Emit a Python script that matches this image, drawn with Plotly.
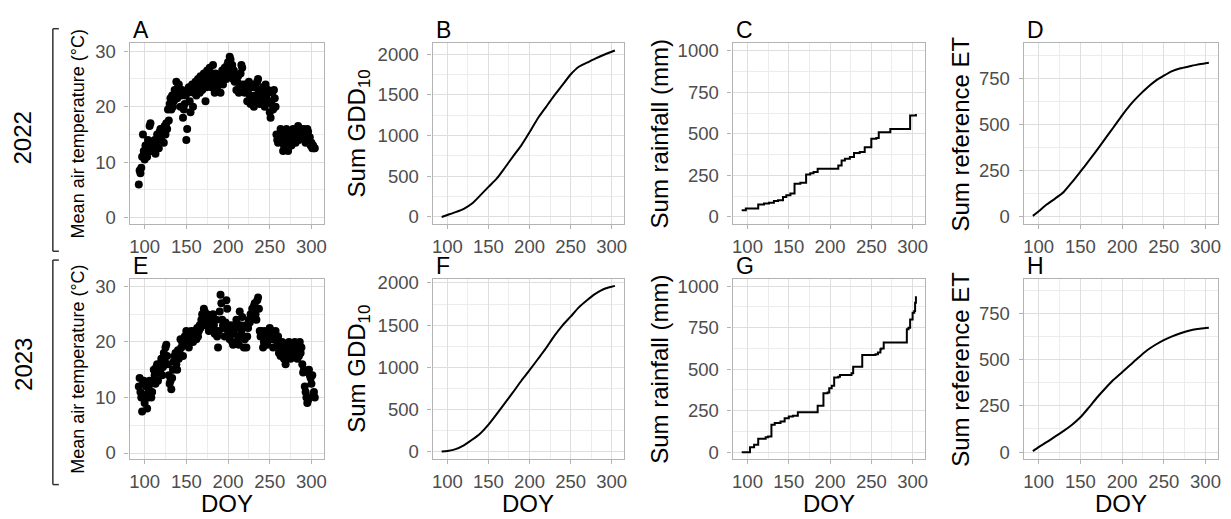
import plotly.graph_objects as go

# --- data ---
doy = list(range(93, 305))

temp_2022 = [6, 8.5, 8, 9, 11, 15, 12,
             10.5, 13, 12, 11, 14, 13, 16.5, 17, 12, 13.5,
             13, 12, 14, 11.5, 13, 15, 14, 12.5, 15.5, 16,
             14.5, 16, 15, 13.5, 16.5, 15, 17, 16, 19.5, 17.5,
             20.5, 21.5, 19.5, 22, 20, 21, 23, 22, 24.5, 21.5,
             23.5, 24, 22.5, 20, 22, 23, 18, 19.5, 20.5, 22,
             14, 16, 22.5, 23.5, 21, 19, 23, 24, 20, 22.5,
             23, 24.5, 22, 23.5, 25, 24, 22.5, 25.5, 24, 23,
             25, 26, 24, 21, 23.5, 26.5, 25, 24, 27, 26,
             23.5, 25, 27.5, 24, 22.5, 26, 25, 23, 24.5, 25.5,
             24, 22.5, 25, 26.5, 24, 25.5, 27, 26, 25, 27.5,
             28, 27, 29, 28.5, 26, 27.5, 25, 26.5, 24.5, 25.5,
             23, 24.5, 25.5, 22.5, 24, 26, 27.5, 27, 24, 23,
             22.5, 24, 23.5, 21, 23, 24.5, 22, 20.5, 23.5, 24,
             21.5, 20, 22, 23.5, 21, 24.5, 25, 22.5, 20.5, 23,
             22, 21, 23.5, 22.5, 20, 24, 21.5, 22.5, 23, 21,
             19, 18, 20.5, 22.5, 19.5, 23, 21.5, 20, 15, 14,
             13.5, 14.5, 15, 16, 14, 15.5, 12, 13, 14.5, 15,
             16, 13.5, 12, 14, 15, 14.5, 13, 15.5, 16, 14,
             15, 13.5, 14.5, 15, 16.5, 14, 15.5, 16, 15, 14.5,
             15.5, 16, 14, 13.5, 15, 16, 15.5, 14, 14.5, 13,
             13.5, 12.5, 13, 12.5, 12.5]

temp_2023 = [12, 13.5, 11, 10, 7.5, 12.5, 13,
             9, 10.5, 12, 8, 10, 11.5, 13, 12.5, 10, 11,
             13, 15, 14, 12.5, 15.5, 16, 13, 14.5, 16, 15,
             17, 14, 15.5, 18, 16.5, 19, 19.5, 17.5, 16, 14,
             12.5, 13, 11.5, 13.5, 15, 16.5, 17.5, 18, 16, 15,
             18.5, 17, 18, 20.5, 19, 20, 17.5, 19.5, 21, 20,
             22, 20.5, 21, 19, 20, 21.5, 22, 21, 20, 21.5,
             22, 21, 20.5, 22.5, 21, 22, 23, 22.5, 24, 25,
             24, 26, 25.5, 23, 24.5, 25, 23.5, 22, 24, 23,
             22.5, 24, 25, 23, 21.5, 22, 24, 21, 19, 22,
             25.5, 28.5, 27, 24, 23, 22.5, 21, 23.5, 27.5, 26,
             22, 21, 20.5, 23, 22, 20, 19.5, 21.5, 23, 22.5,
             24, 20, 21, 19.5, 25.5, 23, 22, 24.5, 21, 19,
             20.5, 23, 19, 21, 22.5, 24, 23.5, 25, 24, 26,
             25, 26.5, 27, 25, 24, 27.5, 28, 26, 22, 21,
             22, 21.5, 19, 20, 22, 21, 20.5, 19.5, 21.5, 22,
             22.5, 21, 22, 20.5, 19, 21, 21.5, 22, 20.5, 19.5,
             21, 18, 19, 17.5, 18.5, 20, 19, 17, 18, 16,
             17.5, 18.5, 19, 20, 18, 17, 19.5, 18, 17.5, 19,
             20, 18.5, 18, 17, 19, 17.5, 20, 18, 19, 16,
             14.5, 15, 12, 11, 10, 9, 9.5, 15, 14, 13.5,
             12.5, 14, 10.5, 11, 10]

doy_cum = [93, 100, 110, 120, 130, 140, 150, 160, 170, 180, 190, 200,
           210, 220, 230, 240, 250, 260, 270, 280, 290, 300, 304]
gdd_2022 = [0, 25, 60, 100, 165, 265, 370, 470, 605, 745, 880, 1040,
            1210, 1350, 1490, 1620, 1750, 1845, 1895, 1945, 1990, 2030, 2045]
gdd_2023 = [0, 8, 30, 75, 140, 215, 320, 445, 575, 705, 840, 965,
            1095, 1225, 1370, 1495, 1600, 1710, 1795, 1870, 1925, 1955, 1965]
et_2022 = [5, 30, 68, 100, 135, 188, 245, 303, 363, 425, 487, 550,
           608, 657, 700, 737, 765, 790, 805, 815, 825, 832, 835]
et_2023 = [5, 27, 55, 85, 115, 148, 188, 240, 295, 345, 392, 432,
           472, 512, 550, 580, 605, 625, 642, 656, 665, 670, 672]

rain_doy_2022 = [93, 98, 113, 120, 126, 132, 137, 143, 147, 152, 157, 164, 171, 176,
                 180, 185, 207, 210, 214, 218, 224, 229, 236, 242, 250, 256, 259, 273,
                 295, 297, 304]
rain_2022 = [40, 50, 75, 80, 85, 95, 100, 120, 130, 140, 200, 205, 255, 262,
             270, 290, 290, 310, 340, 350, 360, 385, 390, 420, 470, 475, 510, 530,
             530, 610, 620]
rain_doy_2023 = [93, 103, 108, 113, 122, 125, 129, 133, 140, 145, 150, 155, 161, 185,
                 192, 197, 199, 202, 205, 210, 212, 226, 228, 239, 255, 258, 261, 262,
                 265, 293, 295, 297, 300, 302, 303, 304]
rain_2023 = [0, 30, 45, 80, 90, 95, 165, 175, 185, 205, 215, 220, 240, 280,
             355, 360, 385, 400, 450, 455, 465, 475, 515, 585, 590, 600, 620, 625,
             660, 740, 750, 800, 840, 850, 900, 940]

letters = ["A", "B", "C", "D", "E", "F", "G", "H"]
years = ["2022", "2023"]

# --- layout in pixels (page coords; page body has an 8px margin) ---
OFF = 8
W, H = 1231 - OFF, 519 - OFF
cols_px = [(129, 324), (433, 625), (734, 927), (1026, 1221)]
rows_px = [(38, 222), (278, 462)]
FONT = "Liberation Sans, Arial, sans-serif"


def px(v):
    return (v - OFF) / W


def py(v):
    return 1 - (v - OFF) / H


# (y ranges per row, major dtick, minor dtick, y title, title x centre, title size)
col_y = [
    ([[-1.1, 31.4], [-1.1, 31.4]], 10, 5, "Mean air temperature (°C)", 77, 18),
    ([[-84, 2132], [-89, 2050]], 500, 250, "Sum GDD<sub>10</sub>", 359, 24),
    ([[-42, 1045], [-42, 1045]], 250, 125, "Sum rainfall (mm)", 661, 24),
    ([[-38, 940], [-38, 937]], 250, 125, "Sum reference ET", 963, 24),
]

series = [
    [("scatter", doy, temp_2022), ("line", doy_cum, gdd_2022),
     ("step", rain_doy_2022, rain_2022), ("line", doy_cum, et_2022)],
    [("scatter", doy, temp_2023), ("line", doy_cum, gdd_2023),
     ("step", rain_doy_2023, rain_2023), ("line", doy_cum, et_2023)],
]

fig = go.Figure()
annotations = []
grid_major = "#dedede"
grid_minor = "#ececec"
border = "#b3b3b3"

for r in range(2):
    for c in range(4):
        n = r * 4 + c + 1
        xs = "x" if n == 1 else f"x{n}"
        ys = "y" if n == 1 else f"y{n}"
        kind, xv, yv = series[r][c]
        if kind == "scatter":
            fig.add_trace(go.Scatter(x=xv, y=yv, mode="markers", xaxis=xs, yaxis=ys,
                                     marker=dict(color="black", size=8), showlegend=False))
        else:
            fig.add_trace(go.Scatter(x=xv, y=yv, mode="lines", xaxis=xs, yaxis=ys,
                                     line=dict(color="black", width=2,
                                               shape="hv" if kind == "step" else "spline",
                                               smoothing=0.6),
                                     showlegend=False))
        l, rr = cols_px[c]
        t, b = rows_px[r]
        yr, dt, mdt, ytitle, tx, tsize = col_y[c]
        common = dict(showline=True, linecolor=border, linewidth=1.3, mirror=True,
                      ticks="outside", ticklen=4, tickcolor=border, tickwidth=1,
                      showgrid=True, gridcolor=grid_major, gridwidth=1, zeroline=False,
                      tickfont=dict(family=FONT, size=18.5, color="#4d4d4d"))
        fig.layout["xaxis" if n == 1 else f"xaxis{n}"] = dict(
            domain=[px(l), px(rr)], anchor=ys, range=[82, 315], tick0=100, dtick=50,
            ticklabelstandoff=2,
            minor=dict(tick0=75, dtick=25, showgrid=True, gridcolor=grid_minor, gridwidth=0.6),
            **common)
        fig.layout["yaxis" if n == 1 else f"yaxis{n}"] = dict(
            domain=[py(b), py(t)], anchor=xs, range=yr[r], tick0=0, dtick=dt,
            ticklabelstandoff=5,
            minor=dict(tick0=0, dtick=mdt, showgrid=True, gridcolor=grid_minor, gridwidth=0.6),
            **common)
        # panel letter
        annotations.append(dict(text=letters[n - 1], x=px(l + 1), y=py(t + 2),
                                xref="paper", yref="paper", xanchor="left", yanchor="bottom",
                                showarrow=False, font=dict(family=FONT, size=23, color="black")))
        # y axis title
        annotations.append(dict(text=ytitle, x=px(tx), y=py((t + b) / 2),
                                xref="paper", yref="paper", textangle=-90,
                                xanchor="center", yanchor="middle", showarrow=False,
                                font=dict(family=FONT, size=tsize, color="black")))
        if r == 1:
            annotations.append(dict(text="DOY", x=px((l + rr) / 2), y=py(507),
                                    xref="paper", yref="paper", xanchor="center",
                                    yanchor="middle", showarrow=False,
                                    font=dict(family=FONT, size=24, color="black")))

# year labels and brackets
year_y = [134, 365]
brackets = [(23, 250), (259, 488)]
shapes = []
for i, yl in enumerate(years):
    annotations.append(dict(text=yl, x=px(22), y=py(year_y[i]), xref="paper", yref="paper",
                            textangle=-90, xanchor="center", yanchor="middle", showarrow=False,
                            font=dict(family=FONT, size=24, color="black")))
    y0, y1 = brackets[i]
    line = dict(color="#333333", width=1.5)
    shapes.append(dict(type="line", xref="paper", yref="paper", x0=px(52), x1=px(52),
                       y0=py(y0), y1=py(y1), line=line))
    for yy in (y0, y1):
        shapes.append(dict(type="line", xref="paper", yref="paper", x0=px(52), x1=px(58),
                           y0=py(yy), y1=py(yy), line=line))

fig.update_layout(width=W, height=H, margin=dict(l=0, r=0, t=0, b=0),
                  paper_bgcolor="white", plot_bgcolor="white",
                  annotations=annotations, shapes=shapes, showlegend=False,
                  font=dict(family=FONT))

fig.write_html("out.html")
